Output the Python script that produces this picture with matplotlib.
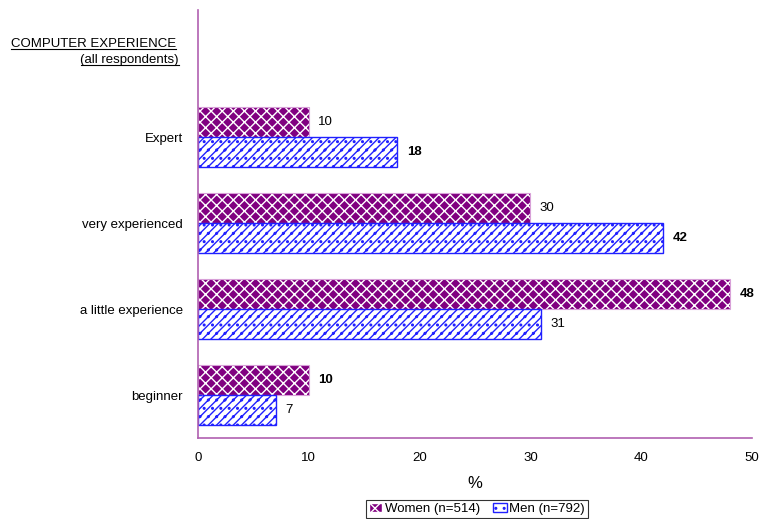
import matplotlib.pyplot as plt
import numpy as np

plt.rcParams['font.family'] = ['Liberation Sans', 'DejaVu Sans']
plt.rcParams['hatch.linewidth'] = 1.0

# Data
categories = ['beginner', 'a little experience', 'very experienced', 'Expert']
women = [10, 48, 30, 10]
men = [7, 31, 42, 18]
women_label = 'Women (n=514)'
men_label = 'Men (n=792)'

fig = plt.figure(figsize=(7.63, 5.19), dpi=100)
ax = fig.add_axes([0.2595, 0.156, 0.7261, 0.825])

y = np.arange(len(categories))
h = 0.35

# Women: purple with white cross hatch
ax.barh(y + h / 2, women, height=h, color='#800080', edgecolor='white',
        hatch='xxx', linewidth=0)
ax.barh(y + h / 2, women, height=h, fill=False, edgecolor='#d8a0d8',
        linewidth=0.8)
# Men: white with blue diagonal + dots
ax.barh(y - h / 2, men, height=h, color='white', edgecolor='#2020ff',
        hatch='////..', linewidth=1.0)

# dummy handles for legend
hw = ax.bar(0, 0, color='#800080', edgecolor='white', hatch='xx', label=women_label)
hm = ax.bar(0, 0, color='white', edgecolor='#2020ff', hatch='..', label=men_label)

for i in range(len(categories)):
    wb = 'bold' if women[i] > men[i] else 'normal'
    mb = 'bold' if men[i] > women[i] else 'normal'
    ax.text(women[i] + 0.85, y[i] + h / 2, str(women[i]), va='center', ha='left',
            fontsize=9.5, fontweight=wb)
    ax.text(men[i] + 0.85, y[i] - h / 2, str(men[i]), va='center', ha='left',
            fontsize=9.5, fontweight=mb)

ax.set_xlim(0, 50)
ax.set_ylim(-0.5, 4.48)
ax.set_xticks([0, 10, 20, 30, 40, 50])
ax.set_yticks(y)
ax.set_yticklabels(categories)
ax.tick_params(length=0, labelsize=9.5)
ax.tick_params(axis='y', pad=11)
ax.tick_params(axis='x', pad=10)
ax.set_xlabel('%', fontsize=12, labelpad=9)
for s in ['top', 'right']:
    ax.spines[s].set_visible(False)
for s in ['left', 'bottom']:
    ax.spines[s].set_color('#b060b0')
    ax.spines[s].set_linewidth(1.2)

leg = fig.legend(handles=[hw, hm], loc='center', bbox_to_anchor=(477 / 763, 1 - 509 / 519),
                 ncol=2, frameon=True, fancybox=False, fontsize=9.5,
                 handlelength=1.0, handleheight=0.7, handletextpad=0.2,
                 columnspacing=1.0, borderpad=0.25)
leg.get_frame().set_edgecolor('black')
leg.get_frame().set_linewidth(0.8)

# Title with underline
t1 = fig.text(176 / 763, 1 - 44 / 519, 'COMPUTER EXPERIENCE', ha='right', va='center',
              fontsize=9.5)
t2 = fig.text(179 / 763, 1 - 60 / 519, '(all respondents)', ha='right', va='center',
              fontsize=9.5)
fig.canvas.draw()
r = fig.canvas.get_renderer()
for t in [t1, t2]:
    bb = t.get_window_extent(r).transformed(fig.transFigure.inverted())
    fig.add_artist(plt.Line2D([bb.x0, bb.x1], [bb.y0 + 0.002, bb.y0 + 0.002],
                              color='black', linewidth=0.8,
                              transform=fig.transFigure))

fig.savefig('out.png', dpi=100)
